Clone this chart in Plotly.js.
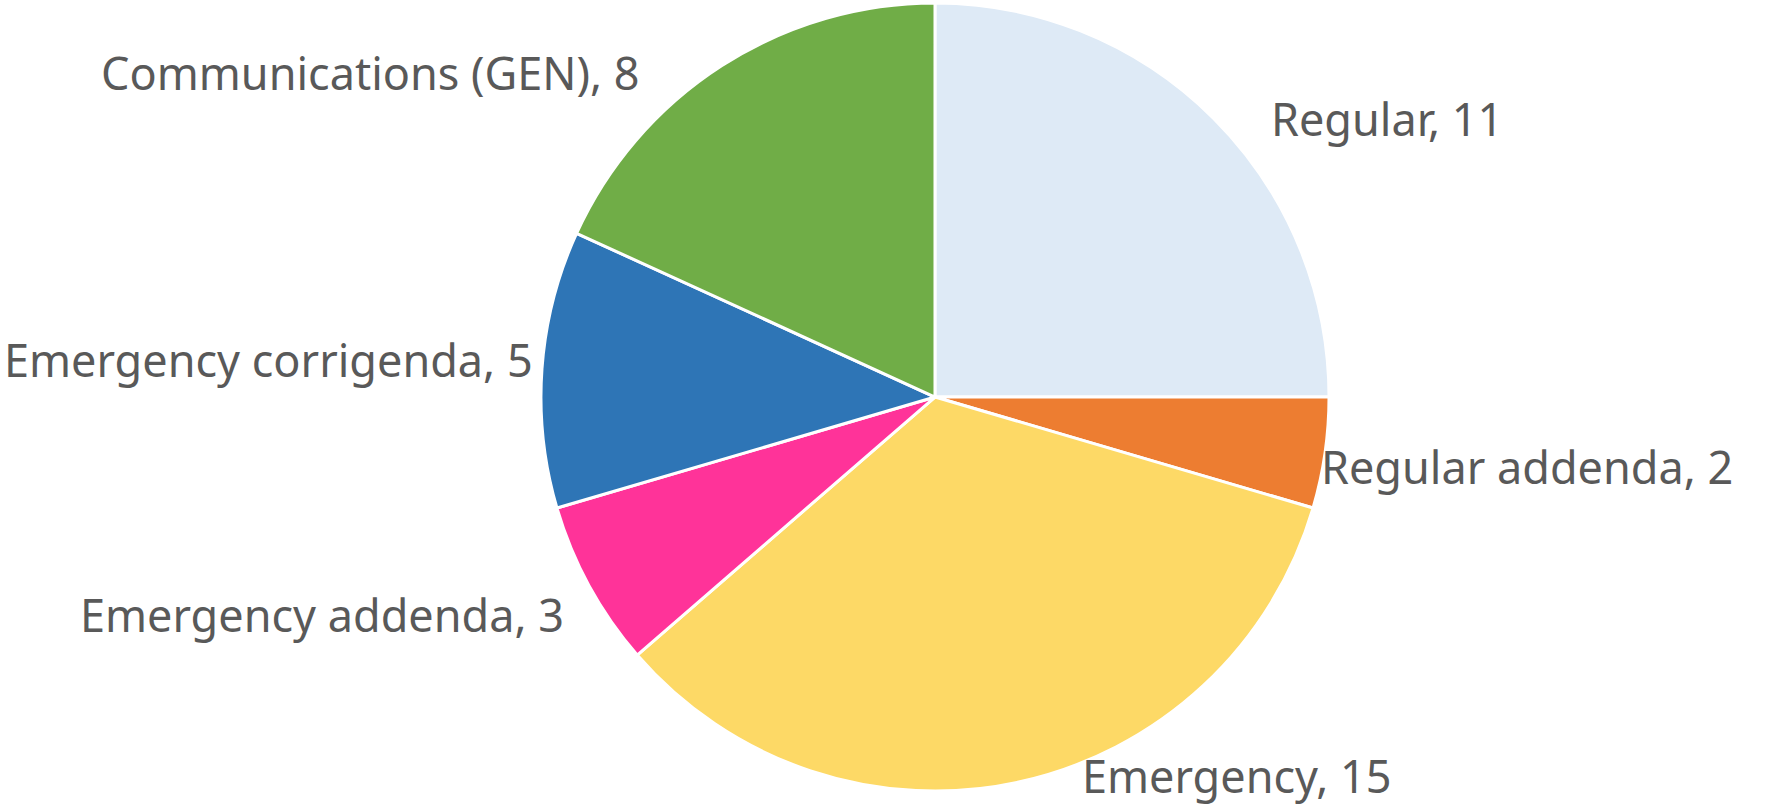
<!DOCTYPE html>
<html>
<head>
<meta charset="utf-8">
<script src="https://cdn.plot.ly/plotly-3.0.1.min.js"></script>
<style>html,body{margin:0;padding:0;background:#fff;}#chart{width:1773px;height:809px;}</style>
</head>
<body>
<div id="chart"></div>
<script>
const categories = ["Regular", "Regular addenda", "Emergency", "Emergency addenda", "Emergency corrigenda", "Communications (GEN)"];
const values = [11, 2, 15, 3, 5, 8];
const colors = ["#DEEAF6", "#ED7D31", "#FDD966", "#FF3399", "#2E75B6", "#70AD47"];

// label placement (paper coords) and anchors
const labelX = [0.716, 0.744, 0.609, 0.319, 0.302, 0.362];
const labelY = [0.853, 0.423, 0.042, 0.241, 0.556, 0.911];
const labelAnchor = ["left", "left", "left", "right", "right", "right"];

const annotations = categories.map((c, i) => ({
  xref: "paper", yref: "paper",
  x: labelX[i], y: labelY[i],
  xanchor: labelAnchor[i], yanchor: "middle",
  text: c + ", " + values[i],
  showarrow: false,
  font: {family: "Noto Sans, Open Sans, sans-serif", size: 45, color: "#595959"}
}));

const data = [{
  type: "pie",
  labels: categories,
  values: values,
  marker: {colors: colors, line: {color: "#FFFFFF", width: 3}},
  sort: false,
  direction: "clockwise",
  rotation: 0,
  textinfo: "none",
  hoverinfo: "skip",
  domain: {x: [0.3051, 0.7496], y: [0.0222, 0.9963]}
}];

const layout = {
  width: 1773, height: 809,
  margin: {l: 0, r: 0, t: 0, b: 0},
  paper_bgcolor: "#FFFFFF",
  showlegend: false,
  annotations: annotations
};

Plotly.newPlot("chart", data, layout, {staticPlot: true});
</script>
</body>
</html>
